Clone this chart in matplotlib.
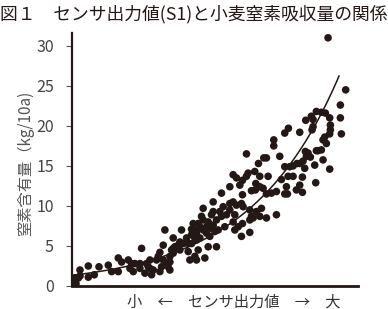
import numpy as np
import matplotlib
matplotlib.use("Agg")
import matplotlib.pyplot as plt

plt.rcParams['font.family'] = ['Noto Sans CJK JP', 'DejaVu Sans']

# sensor output (arbitrary units, no scale shown) and wheat N uptake (kg/10a)
sensor = [769, 822, 806, 806, 809, 774, 734, 749, 761, 719, 724, 774, 702, 776, 724, 776,
          684, 721, 774, 759, 754, 764, 650, 639, 606, 606, 524, 576, 560, 624, 701, 709,
          734, 739, 704, 716, 694, 729, 754, 676, 664, 654, 639, 649, 629, 699, 692, 684,
          692, 674, 644, 639, 732, 647, 614, 599, 584, 614, 584, 569, 484, 494, 512, 504,
          529, 549, 564, 589, 474, 552, 564, 574, 539, 551, 512, 449, 484, 474, 494, 514,
          534, 554, 539, 534, 544, 489, 484, 512, 499, 489, 509, 534, 424, 394, 424, 419,
          434, 454, 474, 459, 439, 429, 424, 409, 389, 379, 384, 364, 359, 394, 404, 374,
          414, 434, 409, 384, 374, 359, 344, 349, 334, 324, 319, 309, 304, 299, 324, 304,
          294, 279, 304, 274, 329, 264, 259, 254, 234, 224, 209, 204, 229, 234, 244, 264,
          239, 219, 294, 284, 289, 294, 269, 369, 374, 354, 379, 399, 349, 169, 179, 174,
          184, 149, 139, 139, 119, 109, 81, 67, 49, 49, 24, 24, 9, 4, 12, 19,
          404, 419, 374, 394, 449, 464, 444, 359, 369, 274, 204, 189, 664, 684, 749, 524,
          509, 564, 584]
nitrogen = [31.0, 24.5, 22.6, 21.0, 19.0, 14.6, 21.8, 21.7, 21.6, 21.2, 20.8, 21.0, 20.7, 20.1, 19.9, 19.5,
            19.2, 19.5, 19.0, 18.6, 18.25, 17.8, 19.7, 19.1, 18.25, 17.5, 16.5, 16.0, 15.3, 16.2, 16.8, 16.6,
            16.9, 16.9, 16.2, 16.1, 15.6, 15.1, 15.75, 15.3, 15.0, 14.9, 14.9, 13.7, 13.3, 14.7, 13.6, 12.6,
            11.7, 12.0, 12.4, 11.5, 12.9, 11.5, 11.8, 11.6, 11.5, 8.9, 8.5, 9.7, 13.9, 13.5, 13.2, 12.6,
            14.1, 14.3, 13.7, 13.7, 12.4, 12.8, 12.4, 12.2, 11.9, 12.0, 11.4, 11.6, 10.5, 10.3, 10.1, 9.9,
            9.5, 9.3, 8.7, 8.25, 8.5, 8.9, 8.0, 7.8, 7.4, 7.0, 6.2, 6.7, 10.5, 9.7, 9.3, 8.9,
            8.25, 9.9, 9.5, 7.4, 7.0, 6.8, 7.6, 8.0, 8.7, 7.8, 7.4, 7.8, 7.1, 7.0, 6.6, 6.6,
            6.2, 4.9, 4.9, 6.0, 5.75, 6.4, 6.0, 5.3, 5.3, 5.5, 5.1, 4.9, 4.7, 4.5, 4.5, 4.1,
            3.7, 7.0, 6.0, 5.1, 7.0, 4.2, 3.7, 3.25, 3.25, 2.8, 4.7, 2.8, 2.4, 2.2, 2.0, 1.8,
            1.4, 1.6, 3.0, 2.8, 2.4, 2.0, 2.4, 3.7, 3.25, 3.25, 4.5, 3.5, 4.3, 3.25, 2.8, 2.2,
            1.8, 3.0, 3.5, 1.8, 1.8, 2.6, 2.4, 1.4, 2.5, 1.1, 2.0, 1.25, 1.0, 0.7, 0.3, 1.0,
            7.4, 7.2, 7.0, 8.25, 8.7, 8.9, 9.3, 5.3, 6.0, 3.25, 2.2, 2.8, 13.7, 15.3, 17.0, 13.7,
            10.3, 8.7, 16.0]
yticks = [0, 5, 10, 15, 20, 25, 30]
curve_end = 802  # trend line drawn up to this sensor value

x = np.array(sensor, dtype=float)
y = np.array(nitrogen)

# exponential trend line (log-linear least squares, like a spreadsheet trendline)
b, ln_a = np.polyfit(x, np.log(y), 1)
xc = np.linspace(0, curve_end, 200)
yc = np.exp(ln_a) * np.exp(b * xc)

fig = plt.figure(figsize=(3.88, 3.09), dpi=100)
ax = fig.add_axes([72 / 388, 1 - 286 / 309, 286 / 388, 253 / 309])

ax.scatter(x, y, s=30, color="#231815", edgecolors="none", zorder=3)
ax.plot(xc, yc, color="#231815", lw=1.1, zorder=2)

ax.set_xlim(0, 859)
ax.set_ylim(0, 31.6)
ax.set_xticks([])
ax.set_yticks(yticks)
ax.tick_params(axis="y", length=4, width=0.8, color="#555555", pad=9,
               labelsize=11.5, labelcolor="#444444")
for sp in ["top", "right"]:
    ax.spines[sp].set_visible(False)
ax.spines["left"].set_linewidth(1.6)
ax.spines["bottom"].set_linewidth(2.0)
ax.spines["left"].set_color("#231815")
ax.spines["bottom"].set_color("#231815")

fig.text(0.0, 1 - 14 / 309, "図１　センサ出力値(S1)と小麦窒素吸収量の関係",
         fontsize=12.8, va="center", ha="left", color="#231815")
fig.text(25 / 388, 1 - 163 / 309, "窒素含有量（kg/10a)", rotation=90,
         fontsize=11, va="center", ha="center", color="#555555")
fig.text(234 / 388, 7 / 309, "小　←　センサ出力値　→　大",
         fontsize=11, va="center", ha="center", color="#333333")

fig.savefig("out.png", dpi=100)
